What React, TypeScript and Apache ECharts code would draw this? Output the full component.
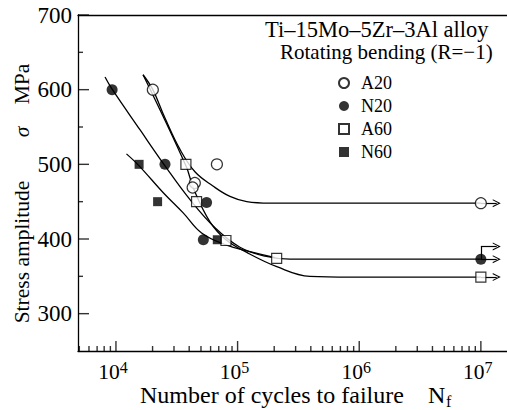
import React, { useEffect, useRef } from "react";
import * as echarts from "echarts";

const FONT = "'Liberation Serif', 'Times New Roman', serif";

// Axis ticks / labels
const yMajorTicks = [300, 400, 500, 600, 700];
const yMinorTicks = [350, 450, 550, 650];
const xMajorTicks = [10000, 100000, 1000000, 10000000];
const xMinorTicks = [
  5000, 6000, 7000, 8000, 9000,
  20000, 30000, 40000, 50000, 60000, 70000, 80000, 90000,
  200000, 300000, 400000, 500000, 600000, 700000, 800000, 900000,
  2000000, 3000000, 4000000, 5000000, 6000000, 7000000, 8000000, 9000000,
];

// Measured points [cycles, MPa]
const a20Points = [[20100, 600], [67600, 500], [44500, 475], [42700, 469], [10000000, 448]];
const n20Points = [[9300, 600], [25300, 500], [55600, 449], [52300, 399], [10000000, 373]];
const a60Points = [[37600, 500], [46000, 450], [80200, 398], [209500, 374], [10000000, 349]];
const n60Points = [[15500, 500], [22000, 450], [68100, 399]];

// Fitted curves
const a20Curve = [[16700, 620], [20100, 600], [25300, 562], [33600, 520], [44600, 490], [62700, 471], [86500, 457], [119000, 450], [184500, 448], [10000000, 448]];
const n20Curve = [[8130, 617], [9270, 601], [15800, 546], [25300, 498], [40500, 453], [65200, 415], [104500, 389], [168000, 377], [269000, 373], [10000000, 373]];
const a60Curve = [[16700, 620], [37600, 498], [43800, 466], [59300, 423], [80200, 399], [119000, 382], [210000, 363], [393000, 350], [838000, 349], [10000000, 349]];
const n60Curve = [[12200, 514], [15500, 498], [24500, 462], [35700, 435], [50600, 408], [80200, 392], [126000, 383], [203000, 375]];

// Run-out arrows
const runoutN = 10000000;
const runoutEnd = 13500000;
const n20StepLevel = 390;

const X_MIN = 4875;
const X_MAX = 16400000;
const Y_MIN = 250;
const Y_MAX = 700;
const BLACK = "#000";
const AXIS_LINE = { color: BLACK, width: 1.3 };
const CHEVRON = "path://M0,10 L5,0 L10,10 L8.6,10 L5,2.8 L1.4,10 Z";

function curveSeries(data: number[][]) {
  return {
    type: "line",
    data,
    smooth: 0.4,
    symbol: "none",
    lineStyle: { color: BLACK, width: 1.3 },
    silent: true,
    z: 2,
  };
}

// Inward tick marks, placed through the axes' own scales (thin rect symbols)
function tickSeries(values: number[], dir: "x" | "y", len: number) {
  return {
    type: "scatter",
    clip: false,
    silent: true,
    z: 3,
    data: values.map((v) => (dir === "x" ? [v, Y_MIN] : [X_MIN, v])),
    symbol: "rect",
    symbolSize: dir === "x" ? [1.4, len] : [len, 1.4],
    symbolOffset: dir === "x" ? [0, -len / 2] : [len / 2, 0],
    itemStyle: { color: BLACK },
  };
}

function arrow(level: number) {
  return [{ coord: [runoutN, level] }, { coord: [runoutEnd, level] }];
}

export default function App() {
  const ref = useRef<HTMLDivElement>(null);
  useEffect(() => {
    const chart = echarts.init(ref.current!, null, { renderer: "svg" });
    const baseX = {
      type: "log",
      logBase: 10,
      min: X_MIN,
      max: X_MAX,
      splitLine: { show: false },
      minorTick: { show: false },
      minorSplitLine: { show: false },
    };
    const markLineBase = {
      silent: true,
      symbol: ["none", CHEVRON],
      symbolSize: [8, 8],
      label: { show: false },
      lineStyle: { color: BLACK, width: 1.2, type: "solid" },
      emphasis: { disabled: true },
      animation: false,
    };
    const titleStyle = (text: string, size: number, extra: any = {}) => ({
      text,
      fontFamily: FONT,
      fontSize: size,
      lineHeight: size,
      fill: BLACK,
      textAlign: "left",
      textVerticalAlign: "middle",
      align: "left",
      verticalAlign: "middle",
      ...extra,
    });
    const option: any = {
      animation: false,
      grid: { left: 78, right: 0, top: 15, bottom: 59 },
      xAxis: [
        {
          ...baseX,
          position: "bottom",
          axisLine: { show: true, onZero: false, lineStyle: AXIS_LINE },
          axisTick: { show: false },
          axisLabel: {
            show: true,
            customValues: xMajorTicks,
            margin: 8,
            padding: [0, 6, 0, 0],
            formatter: (v: number) => `{b|10}{s|${Math.round(Math.log10(v))}}`,
            rich: {
              b: { fontSize: 21.5, fontFamily: FONT, color: BLACK, lineHeight: 24, verticalAlign: "bottom" },
              s: { fontSize: 16, fontFamily: FONT, color: BLACK, lineHeight: 5, verticalAlign: "top" },
            },
          },
        },
        {
          ...baseX,
          position: "top",
          axisLine: { show: true, onZero: false, lineStyle: AXIS_LINE },
          axisTick: { show: false },
          axisLabel: { show: false },
        },
      ],
      yAxis: [
        {
          type: "value",
          min: Y_MIN,
          max: Y_MAX,
          position: "left",
          splitLine: { show: false },
          axisLine: { show: true, onZero: false, lineStyle: AXIS_LINE },
          axisTick: { show: false },
          axisLabel: { show: true, customValues: yMajorTicks, margin: 6, fontSize: 23, fontFamily: FONT, color: BLACK },
        },
      ],
      legend: {
        data: ["A20", "N20", "A60", "N60"],
        orient: "vertical",
        left: 338,
        top: 73,
        padding: 0,
        itemWidth: 10,
        itemHeight: 10,
        itemGap: 3,
        selectedMode: false,
        textStyle: { fontFamily: FONT, fontSize: 18, color: BLACK, lineHeight: 20, padding: [0, 0, 0, 7] },
      },
      graphic: [
        { type: "text", x: 265, y: 29, style: titleStyle("Ti–15Mo–5Zr–3Al alloy", 22.5) },
        { type: "text", x: 280, y: 52, style: titleStyle("Rotating bending (R=−1)", 21) },
        { type: "text", x: 22, y: 252, rotation: Math.PI / 2, style: titleStyle("Stress amplitude", 21.5, { textAlign: "center", align: "center" }) },
        { type: "text", x: 22, y: 132, rotation: Math.PI / 2, style: titleStyle("σ", 21.5, { textAlign: "center", align: "center", fontStyle: "italic" }) },
        { type: "text", x: 22, y: 84, rotation: Math.PI / 2, style: titleStyle("MPa", 21.5, { textAlign: "center", align: "center" }) },
        { type: "text", x: 140, y: 395, style: titleStyle("Number of cycles to failure", 24) },
        { type: "text", x: 428, y: 395, style: titleStyle("N", 24) },
        { type: "text", x: 446, y: 401, style: titleStyle("f", 16) },
      ],
      series: [
        tickSeries(xMajorTicks, "x", 10),
        tickSeries(xMinorTicks, "x", 5),
        tickSeries(yMajorTicks, "y", 11),
        tickSeries(yMinorTicks, "y", 5),
        curveSeries(a20Curve),
        curveSeries(n20Curve),
        curveSeries(a60Curve),
        curveSeries(n60Curve),
        {
          name: "A20",
          type: "scatter",
          data: a20Points,
          symbol: "circle",
          symbolSize: 11,
          itemStyle: { color: "#fff", borderColor: BLACK, borderWidth: 1.2 },
          z: 5,
          markLine: { ...markLineBase, data: [arrow(448)] },
        },
        {
          name: "N20",
          type: "scatter",
          data: n20Points,
          symbol: "circle",
          symbolSize: 11,
          itemStyle: { color: BLACK },
          z: 5,
          markLine: {
            ...markLineBase,
            data: [
              arrow(373),
              [{ coord: [runoutN, 373], symbol: "none" }, { coord: [runoutN, n20StepLevel], symbol: "none" }],
              arrow(n20StepLevel),
            ],
          },
        },
        {
          name: "A60",
          type: "scatter",
          data: a60Points,
          symbol: "rect",
          symbolSize: 10,
          itemStyle: { color: "#fff", borderColor: BLACK, borderWidth: 1.2 },
          z: 5,
          markLine: { ...markLineBase, data: [arrow(349)] },
        },
        {
          name: "N60",
          type: "scatter",
          data: n60Points,
          symbol: "rect",
          symbolSize: 9,
          itemStyle: { color: BLACK },
          z: 5,
        },
      ],
    };
    chart.setOption(option);
    return () => chart.dispose();
  }, []);
  return (
    <div
      ref={ref}
      style={{ position: "fixed", left: 0, top: 0, width: 507, height: 410, background: "#fff" }}
    />
  );
}
